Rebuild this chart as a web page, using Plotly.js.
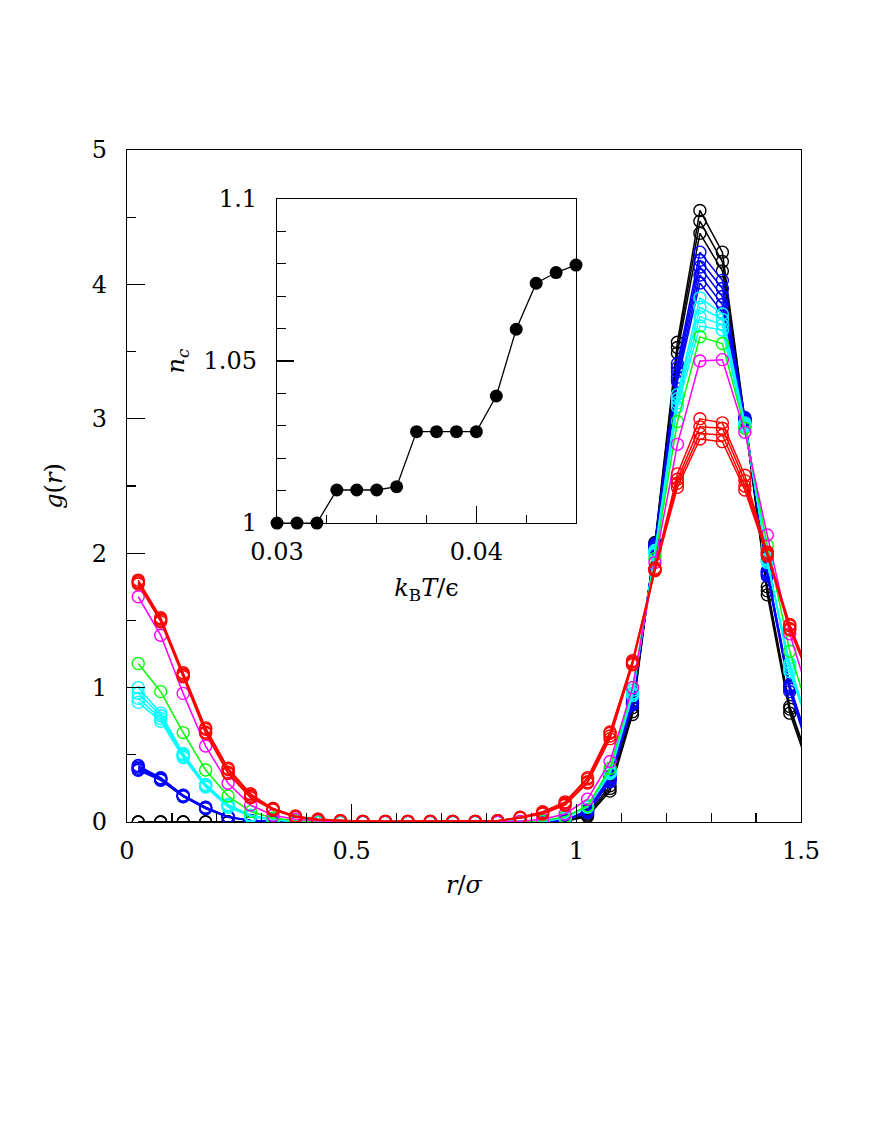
<!DOCTYPE html>
<html>
<head>
<meta charset="utf-8">
<script src="https://cdn.plot.ly/plotly-3.0.1.min.js"></script>
<style>html,body{margin:0;padding:0;background:#fff;}#chart{width:872px;height:1128px;}</style>
</head>
<body>
<div id="chart"></div>
<script>
// ---- main panel: g(r) vs r/sigma ----
var r = [0.025,0.075,0.125,0.175,0.225,0.275,0.325,0.375,0.425,0.475,0.525,0.575,0.625,0.675,0.725,0.775,0.825,0.875,0.925,0.975,1.025,1.075,1.125,1.175,1.225,1.275,1.325,1.375,1.425,1.475,1.525];

var black1 = [0,0,0,0,0,0,0,0,0,0,0,0,0,0,0,0,0,0,0,0.005,0.04,0.23,0.80,2.08,3.57,4.55,4.24,3.00,1.69,0.81,0.33];
var black2 = [0,0,0,0,0,0,0,0,0,0,0,0,0,0,0,0,0,0,0,0.005,0.05,0.25,0.82,2.07,3.53,4.47,4.17,2.99,1.72,0.84,0.36];
var black3 = [0,0,0,0,0,0,0,0,0,0,0,0,0,0,0,0,0,0,0,0.006,0.06,0.27,0.85,2.06,3.49,4.38,4.10,2.98,1.75,0.86,0.38];

var blue1 = [0.42,0.33,0.20,0.11,0.04,0.012,0.003,0,0,0,0,0,0,0,0,0,0,0,0,0.01,0.07,0.30,0.87,2.07,3.41,4.24,4.03,3.01,1.87,1.02,0.50];
var blue2 = [0.41,0.325,0.198,0.108,0.039,0.011,0.003,0,0,0,0,0,0,0,0,0,0,0,0,0.01,0.075,0.31,0.88,2.06,3.38,4.18,3.97,3.00,1.86,1.01,0.49];
var blue3 = [0.40,0.32,0.195,0.105,0.038,0.01,0.002,0,0,0,0,0,0,0,0,0,0,0,0,0.01,0.08,0.32,0.89,2.05,3.35,4.13,3.91,2.99,1.85,1.00,0.48];
var blue4 = [0.39,0.315,0.19,0.10,0.036,0.01,0.002,0,0,0,0,0,0,0,0,0,0,0,0,0.012,0.085,0.33,0.90,2.04,3.31,4.07,3.85,2.98,1.84,0.99,0.47];
var blue5 = [0.385,0.31,0.188,0.10,0.035,0.01,0.002,0,0,0,0,0,0,0,0,0,0,0,0,0.012,0.09,0.34,0.92,2.03,3.28,4.01,3.79,2.97,1.83,0.97,0.45];

var cyan1 = [1.00,0.81,0.51,0.28,0.13,0.05,0.02,0.005,0,0,0,0,0,0,0,0,0,0,0.005,0.03,0.11,0.36,0.94,2.02,3.18,3.90,3.78,2.97,1.93,1.18,0.62];
var cyan2 = [0.96,0.79,0.50,0.275,0.125,0.048,0.02,0.005,0,0,0,0,0,0,0,0,0,0,0.005,0.03,0.115,0.37,0.95,2.01,3.15,3.83,3.74,2.96,1.94,1.16,0.62];
var cyan3 = [0.92,0.77,0.49,0.27,0.12,0.045,0.018,0.004,0,0,0,0,0,0,0,0,0,0,0.005,0.035,0.12,0.37,0.96,2.00,3.12,3.76,3.70,2.95,1.95,1.14,0.63];
var cyan4 = [0.89,0.75,0.48,0.26,0.11,0.04,0.015,0.004,0,0,0,0,0,0,0,0,0,0,0.006,0.035,0.12,0.38,0.98,1.99,3.09,3.69,3.66,2.94,1.96,1.12,0.63];

var green1 = [1.18,0.97,0.665,0.387,0.193,0.077,0.03,0.01,0.003,0,0,0,0,0,0,0,0,0,0.01,0.04,0.12,0.40,1.00,1.96,2.98,3.61,3.56,2.93,2.06,1.27,0.73];

var magenta1 = [1.676,1.39,0.957,0.565,0.288,0.126,0.05,0.02,0.008,0.003,0,0,0,0,0,0,0,0.005,0.02,0.06,0.17,0.45,1.00,1.93,2.81,3.43,3.44,2.90,2.135,1.40,0.86];

var red1 = [1.80,1.52,1.11,0.70,0.40,0.21,0.10,0.045,0.02,0.01,0.005,0.005,0.005,0.005,0.005,0.005,0.01,0.035,0.077,0.15,0.33,0.67,1.20,1.89,2.59,3.00,2.97,2.58,2.01,1.47,1.05];
var red2 = [1.79,1.51,1.10,0.69,0.39,0.20,0.10,0.04,0.02,0.01,0.005,0.005,0.005,0.005,0.005,0.005,0.01,0.033,0.07,0.14,0.32,0.66,1.19,1.88,2.55,2.94,2.93,2.54,2.00,1.46,1.04];
var red3 = [1.78,1.50,1.09,0.67,0.37,0.19,0.09,0.04,0.015,0.008,0.004,0.004,0.004,0.004,0.004,0.004,0.01,0.03,0.065,0.13,0.30,0.64,1.18,1.875,2.52,2.89,2.88,2.50,1.99,1.44,1.03];
var red4 = [1.77,1.49,1.08,0.66,0.36,0.18,0.09,0.035,0.015,0.008,0.004,0.004,0.004,0.004,0.004,0.004,0.01,0.03,0.06,0.125,0.29,0.62,1.17,1.87,2.49,2.85,2.83,2.47,1.98,1.43,1.02];

var seriesList = [black1,black2,black3,blue1,blue2,blue3,blue4,blue5,cyan1,cyan2,cyan3,cyan4,green1,magenta1,red1,red2,red3,red4];
var seriesColors = ['#000000','#000000','#000000','#0000ff','#0000ff','#0000ff','#0000ff','#0000ff','#00ffff','#00ffff','#00ffff','#00ffff','#00ff00','#ff00ff','#ff0000','#ff0000','#ff0000','#ff0000'];

var xTickVals = [0,0.5,1,1.5];
var xTickText = ['0','0.5','1','1.5'];
var yTickVals = [0,1,2,3,4,5];
var yTickText = ['0','1','2','3','4','5'];

// ---- inset: n_c vs k_B T / epsilon ----
var kT = [0.030,0.031,0.032,0.033,0.034,0.035,0.036,0.037,0.038,0.039,0.040,0.041,0.042,0.043,0.044,0.045];
var nc = [1.0,1.0,1.0,1.0102,1.0102,1.0102,1.0112,1.0282,1.0282,1.0282,1.0282,1.0392,1.0598,1.0740,1.0773,1.0796];
var insetXTickVals = [0.03,0.04];
var insetXTickText = ['0.03','0.04'];
var insetYTickVals = [1,1.05,1.1];
var insetYTickText = ['1','1.05','1.1'];

var FONT = 'DejaVu Serif, serif';
var TICKSIZE = 24;
var TITLESIZE = 24;
var traces = [];
for (var i = 0; i < seriesList.length; i++) {
  traces.push({
    x: r, y: seriesList[i], type: 'scatter', mode: 'lines+markers',
    xaxis: 'x', yaxis: 'y', showlegend: false, hoverinfo: 'skip',
    line: {color: seriesColors[i], width: 1.5},
    marker: {symbol: 'circle-open', size: 12, color: seriesColors[i], line: {width: 1.4, color: seriesColors[i]}}
  });
}
traces.push({
  x: kT, y: nc, type: 'scatter', mode: 'lines+markers',
  xaxis: 'x2', yaxis: 'y2', showlegend: false, cliponaxis: false, hoverinfo: 'skip',
  line: {color: '#000', width: 1.3},
  marker: {symbol: 'circle', size: 13, color: '#000'}
});

var axBase = {
  showgrid: false, zeroline: false, showline: true, mirror: true,
  linecolor: '#000', linewidth: 1.2, ticks: 'inside', tickcolor: '#000', tickwidth: 1.2,
  tickfont: {family: FONT, size: TICKSIZE, color: '#000'}, tickmode: 'array'
};
function ax(extra) { var o = {}; for (var k in axBase) o[k] = axBase[k]; for (var k2 in extra) o[k2] = extra[k2]; return o; }

var layout = {
  width: 872, height: 1128,
  margin: {l: 127, r: 71, t: 150, b: 306},
  paper_bgcolor: '#fff', plot_bgcolor: 'rgba(0,0,0,0)',
  font: {family: FONT, color: '#000'},
  xaxis: ax({domain: [0, 1], anchor: 'y', range: [0, 1.5], tickvals: xTickVals, ticktext: xTickText, ticklen: 18,
    ticklabelstandoff: 7,
    minor: {ticks: 'inside', ticklen: 9, dtick: 0.1, tick0: 0, tickcolor: '#000', tickwidth: 1.2},
    title: {text: '<i>r</i>/<i>σ</i>', font: {family: FONT, size: TITLESIZE, color: '#000'}, standoff: 12}}),
  yaxis: ax({domain: [0, 1], anchor: 'x', range: [0, 5], tickvals: yTickVals, ticktext: yTickText, ticklen: 18,
    ticklabelstandoff: 14,
    minor: {ticks: 'inside', ticklen: 9, dtick: 0.5, tick0: 0, tickcolor: '#000', tickwidth: 1.2},
    title: {text: '<i>g</i>(<i>r</i>)', font: {family: FONT, size: TITLESIZE, color: '#000'}, standoff: 22}}),
  xaxis2: ax({domain: [0.2226, 0.6662], anchor: 'y2', range: [0.03, 0.045], tickvals: insetXTickVals, ticktext: insetXTickText, ticklen: 17,
    ticklabelstandoff: 7,
    minor: {ticks: 'inside', ticklen: 8, dtick: 0.0025, tick0: 0.03, tickcolor: '#000', tickwidth: 1.2},
    title: {text: '<i>k</i><sub>B</sub><i>T</i>/ϵ', font: {family: FONT, size: TITLESIZE, color: '#000'}, standoff: 14}}),
  yaxis2: ax({domain: [0.4449, 0.9271], anchor: 'x2', range: [1, 1.1], tickvals: insetYTickVals, ticktext: insetYTickText, ticklen: 17,
    ticklabelstandoff: 14,
    minor: {ticks: 'inside', ticklen: 9, dtick: 0.01, tick0: 1, tickcolor: '#000', tickwidth: 1.2},
    title: {text: '<i>n</i><sub><i>c</i></sub>', font: {family: FONT, size: TITLESIZE, color: '#000'}, standoff: 12}})
};

Plotly.newPlot('chart', traces, layout, {displayModeBar: false, staticPlot: true});
</script>
</body>
</html>
